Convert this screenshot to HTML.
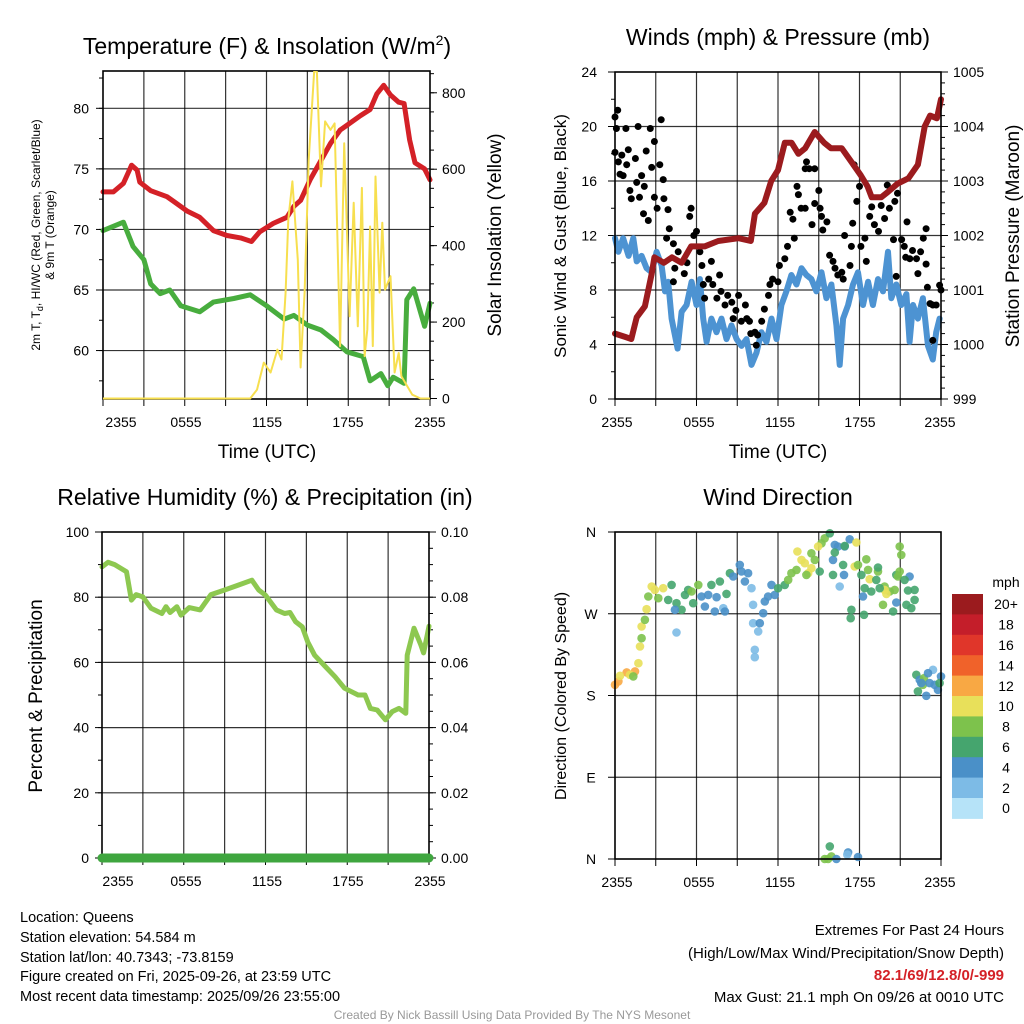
<!DOCTYPE html>
<html><head><meta charset="utf-8"><style>
html,body{margin:0;padding:0;background:#fff}
svg{display:block;font-family:"Liberation Sans",Arial,sans-serif}
</style></head><body>
<svg id="c" width="1024" height="1024" viewBox="0 0 1024 1024" xmlns="http://www.w3.org/2000/svg">
<rect width="1024" height="1024" fill="#fff"/>
<text x="267" y="54" font-size="23" text-anchor="middle">Temperature (F) &amp; Insolation (W/m<tspan font-size="14" dy="-9">2</tspan><tspan dy="9">)</tspan></text>
<text x="778" y="45" font-size="23" text-anchor="middle">Winds (mph) &amp; Pressure (mb)</text>
<text x="265" y="505" font-size="23" text-anchor="middle">Relative Humidity (%) &amp; Precipitation (in)</text>
<text x="778" y="505" font-size="23" text-anchor="middle">Wind Direction</text>
<text x="267" y="458" font-size="19" text-anchor="middle">Time (UTC)</text>
<text x="778" y="458" font-size="19" text-anchor="middle">Time (UTC)</text>
<g font-size="12" text-anchor="middle">
<text transform="translate(40,235) rotate(-90)">2m T, T<tspan font-size="9" dy="3">d</tspan><tspan dy="-3">, HI/WC (Red, Green, Scarlet/Blue)</tspan></text>
<text transform="translate(54,235) rotate(-90)">&amp; 9m T (Orange)</text>
</g>
<text transform="translate(501,235) rotate(-90)" font-size="19" text-anchor="middle">Solar Insolation (Yellow)</text>
<text transform="translate(566,236) rotate(-90)" font-size="17" text-anchor="middle">Sonic Wind &amp; Gust (Blue, Black)</text>
<text transform="translate(1019,236) rotate(-90)" font-size="19" text-anchor="middle">Station Pressure (Maroon)</text>
<text transform="translate(42,696) rotate(-90)" font-size="19" text-anchor="middle">Percent &amp; Precipitation</text>
<text transform="translate(566,696) rotate(-90)" font-size="16" text-anchor="middle">Direction (Colored By Speed)</text>
<g font-size="14.5">
<text x="20" y="922">Location: Queens</text>
<text x="20" y="942">Station elevation: 54.584 m</text>
<text x="20" y="962">Station lat/lon: 40.7343; -73.8159</text>
<text x="20" y="981">Figure created on Fri, 2025-09-26, at 23:59 UTC</text>
<text x="20" y="1001">Most recent data timestamp: 2025/09/26 23:55:00</text>
</g>
<g font-size="15" text-anchor="end">
<text x="1004" y="935">Extremes For Past 24 Hours</text>
<text x="1004" y="958">(High/Low/Max Wind/Precipitation/Snow Depth)</text>
<text x="1004" y="980" fill="#d42127" font-weight="bold">82.1/69/12.8/0/-999</text>
<text x="1004" y="1002">Max Gust: 21.1 mph On 09/26 at 0010 UTC</text>
</g>
<text x="512" y="1019" font-size="12" fill="#999" text-anchor="middle">Created By Nick Bassill Using Data Provided By The NYS Mesonet</text>
</svg>
<script>
// ---- Panel 1 data ----
const tempHours=[0,0.76,1.5,2.1,2.5,2.7,3.5,4.7,5.2,6.2,7.1,8.1,9.1,10.1,10.9,11.5,12.5,13.5,14.0,14.5,15.2,16.0,16.7,17.4,17.9,18.9,19.6,20.1,20.6,21.1,21.7,22.1,22.5,22.9,23.6,24];
const tempValues=[73.1,73.1,73.8,75.3,74.9,73.9,73.2,72.7,72.3,71.5,71.0,69.9,69.5,69.3,69.0,69.8,70.5,71.0,71.9,72.4,74.1,75.7,77.1,78.2,78.6,79.4,79.9,81.2,81.9,81.1,80.5,80.4,77.4,75.5,75.0,74.1];
const dewHours=[0,1.5,2.2,3.0,3.5,4.2,4.9,5.7,7.1,8.1,9.6,10.8,12.0,13.3,14.0,15.0,16.0,16.9,17.9,19.1,19.6,20.4,20.9,21.3,22.1,22.3,22.8,23.6,24];
const dewValues=[69.9,70.6,68.6,67.5,65.5,64.7,65.0,63.7,63.2,64.0,64.3,64.6,63.7,62.6,62.9,62.1,61.7,60.9,59.9,59.5,57.5,58.1,57.1,57.8,57.3,64.2,65.1,62.0,63.9];
const solarHours=[0,10.8,11.3,11.8,12.3,12.8,13.1,13.4,13.6,13.9,14.3,14.5,14.8,15.1,15.5,15.7,16.0,16.3,16.7,17.0,17.4,17.7,18.1,18.4,18.7,19.0,19.2,19.4,19.6,19.8,20.0,20.3,20.5,20.7,21.1,21.4,21.7,21.9,22.7,23.3,24];
const solarValues=[0,0,23,94,68,128,102,277,468,568,363,81,277,625,857,855,555,725,703,720,137,668,215,512,189,551,111,180,450,137,581,277,460,285,320,68,119,58,10,0,0];
// ---- Panel 2 data ----
const windHours=[0,0.25,0.6,1,1.35,1.6,1.96,2.33,2.7,3.06,3.43,3.68,3.92,4.17,4.61,4.9,5.27,5.64,6.0,6.25,6.49,6.74,7.1,7.47,7.84,8.21,8.58,8.95,9.31,9.68,10.05,10.42,10.78,11.15,11.52,11.89,12.25,12.62,12.99,13.36,13.73,14.09,14.46,14.83,15.2,15.56,15.93,16.3,16.54,16.79,17.16,17.52,17.89,18.26,18.63,18.99,19.36,19.73,20.1,20.34,20.71,21.08,21.45,21.69,21.94,22.3,22.67,23.04,23.4,23.65,23.9];
const windValues=[11.8,10.8,11.8,10.5,11.8,10.1,10.5,9.6,9.3,10.8,9.8,7.9,8.6,5.9,3.7,6.4,6.9,8.6,6.9,8.8,5.9,4.2,5.9,4.9,5.9,4.4,5.4,4.4,3.9,4.4,2.5,3.4,4.9,4.2,5.9,4.4,6.9,7.9,9.1,8.4,9.6,9.1,8.8,7.9,9.3,7.4,8.4,5.4,2.5,5.9,6.9,8.4,9.3,6.9,8.6,6.9,8.8,7.9,10.8,7.4,8.4,6.9,7.7,4.2,6.9,5.9,7.4,3.9,2.9,4.9,5.9];
const gustHours=[0,0.2,0.1,0,0.25,0.37,0.6,0.8,0.5,0.86,0.98,1.1,1.2,1.5,1.6,1.7,1.8,1.96,2.16,2.1,2.3,2.45,2.6,2.7,2.9,2.9,3.1,3.3,3.4,3.55,3.6,3.9,3.8,4.0,4.3,4.4,4.3,4.65,5.1,5.3,5.5,5.6,5.8,6.0,6.25,6.4,6.5,6.6,6.9,7.1,7.2,7.5,7.7,7.8,8.1,8.3,8.6,8.7,8.9,9.1,9.3,9.6,9.7,9.9,10.0,10.3,10.4,10.5,10.8,11.0,11.3,11.4,11.6,12.0,12.1,12.5,12.7,12.9,13.1,13.2,13.4,13.5,13.7,14.0,14.1,14.0,14.3,14.5,14.7,14.7,15.0,15.1,15.2,15.3,15.6,15.8,16.05,16.2,16.4,16.7,16.8,16.9,17.3,17.4,17.5,17.6,17.8,18.0,18.1,18.4,18.5,18.75,18.9,19.1,19.4,19.6,19.85,20.05,20.2,20.6,20.5,20.8,20.7,21.1,21.3,21.5,21.4,21.7,21.9,22.2,22.3,22.5,22.7,22.9,22.9,23.0,23.2,23.4,23.65,23.9,24.0,23.4];
const gustValues=[20.7,21.2,19.85,18.1,17.4,16.5,16.4,19.85,17.9,17.2,18.3,15.3,14.7,17.65,15.9,20.0,14.8,16.4,15.6,13.6,18.2,13.1,19.85,17.0,18.9,14.8,14.0,17.2,20.5,16.1,14.7,13.9,11.8,12.5,11.4,9.6,8.6,10.8,9.2,10.0,13.4,14.0,12.0,12.3,10.8,9.8,8.4,7.4,8.8,10.1,8.4,7.4,9.1,7.9,6.9,7.6,7.1,5.9,6.5,7.6,5.7,6.9,5.9,5.7,4.8,4.9,3.95,4.7,5.7,6.6,7.6,8.4,8.8,8.6,9.8,10.3,11.2,13.7,13.2,11.8,15.6,15.0,14.0,14.0,17.4,16.9,16.9,12.8,16.9,14.35,15.3,14.0,13.4,12.4,13.0,10.55,10.1,9.6,9.1,9.3,8.8,12.0,9.8,11.2,12.9,17.2,14.5,15.6,11.2,11.8,10.1,13.4,14.1,12.8,12.3,14.2,13.25,15.7,14.0,14.5,11.7,15.1,9.0,11.7,11.2,13.0,10.4,10.3,10.9,10.3,9.2,10.8,11.8,12.5,9.9,8.2,7.0,6.9,6.9,8.35,8.0,4.3];
const pressHours=[0,0.74,1.2,1.6,2.2,2.7,2.9,3.6,4.2,4.9,5.6,6.6,7.6,9.1,10.0,10.3,11.0,11.5,12.0,12.5,13.0,13.5,14.0,14.7,15.4,15.9,16.7,17.4,18.1,18.6,18.9,19.6,20.1,20.8,21.6,22.3,22.8,23.2,23.7,24];
const pressValues=[1000.2,1000.14,1000.1,1000.5,1000.7,1001.3,1001.6,1001.5,1001.6,1001.5,1001.8,1001.8,1001.9,1001.95,1001.9,1002.4,1002.6,1003.0,1003.2,1003.7,1003.7,1003.5,1003.6,1003.9,1003.7,1003.6,1003.6,1003.35,1003.1,1002.9,1002.7,1002.7,1002.8,1002.95,1003.05,1003.3,1004.0,1004.2,1004.15,1004.5];
// ---- Panel 3 data ----
const rhHours=[0,0.44,0.93,1.4,1.8,2.16,2.5,3.0,3.6,4.4,4.7,5.0,5.5,5.8,6.4,7.2,8.0,9.0,10.0,11.0,11.5,12.0,12.8,13.4,13.8,14.2,14.7,15.1,15.6,16.4,17.1,17.8,18.8,19.3,19.7,20.2,20.8,21.3,21.8,22.3,22.4,22.9,23.4,23.6,23.85,24];
const rhValues=[89.3,90.7,90.0,88.8,87.8,79.1,80.8,80.1,76.6,75.0,77.1,75.3,77.1,74.5,76.8,76.1,80.8,82.2,83.7,85.2,82.2,80.6,76.1,75.0,75.3,72.5,70.9,66.3,62.2,58.7,55.6,52.1,50.0,50.0,45.9,45.4,42.4,44.9,45.9,44.4,62.2,70.5,65.4,62.9,68.0,71.1];
const precipHours=[0,24];
const precipValues=[0,0];
// ---- Panel 4 data ----
const dirHours=[0,0.25,0.86,1.47,0.37,1.1,1.72,1.84,1.96,2.33,2.7,2.94,3.55,1.35,1.96,2.2,2.45,3.19,4.17,3.92,4.53,4.9,5.15,5.39,4.41,4.53,5.64,6.13,5.76,6.37,6.62,6.86,7.35,7.48,7.1,7.72,8.21,8.46,7.97,8.09,8.7,9.19,9.31,9.56,9.8,10.05,10.17,10.17,10.29,10.29,10.54,10.66,10.91,11.03,11.27,11.52,11.76,12.01,12.5,12.75,12.99,13.36,13.43,13.73,13.97,14.22,14.46,14.09,14.46,14.71,15.07,15.2,15.44,15.81,14.95,16.05,16.18,16.42,16.91,17.28,16.18,16.91,16.79,16.05,16.54,16.86,17.65,17.77,18.75,17.89,18.5,18.63,19.36,18.14,18.38,18.87,19.24,19.36,18.26,17.4,17.35,18.33,19.85,19.73,20.22,20.59,19.85,19.98,19.49,20.47,20.71,21.45,21.57,22.06,21.81,22.06,20.71,21.69,20.96,21.08,20.83,20.96,21.32,22.18,22.43,22.75,22.92,23.41,23.04,23.53,23.77,24.0,22.3,22.67,23.9,23.16,22.55,15.44,15.69,15.81,15.93,16.3,17.16,17.1,17.89];
const dirDegrees=[191.8,195.5,205.4,206.5,201.7,202.8,215.6,234,256,275,300,296.3,298.1,201,243.1,263.3,289,287.1,301.8,285.3,281.6,274.3,290.8,296.3,274.3,249.4,294.5,301.8,281.6,289,278,290.8,272.5,288.2,301.8,305.5,291.9,314.6,276.1,272.5,311,323.8,316.5,305.5,314.6,298.1,279.8,259.6,230.3,222.2,250.5,259.6,270.6,283.5,289,301.8,290.8,298.1,301.8,307.3,314.6,318.3,338.5,329.3,325.6,314.6,320.1,312.8,336.6,329.3,316.5,347.6,353.1,358.6,344,329.3,345.8,344,344,352,337.4,344.7,323.8,312.8,300,312.8,322,348.4,308,323.8,330,318.3,316.5,312.8,298.1,294.5,307.3,320.9,289,274.3,265.1,268.8,300,279.8,294.5,296.3,296.3,291.9,298.1,272.5,312.8,279.8,295.6,296.3,276.1,285.3,282.4,311,344,334.8,311,316.5,307.3,202.8,197.3,199.1,179.7,208.3,204.6,191.8,186.3,201,184.5,191.8,193.6,193.6,193.6,0,0,13.9,2.9,0,7.3,4.8,2.2];
const dirSpeeds=[13,13,13,13,11,11,11,11,11,11,11,11,11,9,9,9,9,9,7,7,7,7,7,7,5,3,9,9,7,5,5,5,5,5,7,7,7,7,3,5,5,5,5,5,5,3,3,3,3,3,3,5,5,5,5,5,5,7,7,9,9,9,11,11,11,11,11,9,9,9,7,9,9,7,11,5,5,5,5,5,7,7,7,7,3,5,11,11,11,9,9,9,9,7,7,7,7,7,5,7,7,7,9,9,9,9,11,11,7,7,7,7,7,7,7,7,5,5,9,9,9,9,7,7,5,9,5,3,5,5,5,5,7,9,7,5,5,9,9,7,9,5,5,3,5];
const speedLabels=["0","2","4","6","8","10","12","14","16","18","20+"];
const speedColors=["#b6e3f8","#7dbbe6","#4a90c8","#45a56e","#7dc24c","#e8e05a","#f8a844","#f0622a","#e0362a","#c41e2a","#9b1b1e"];
const timeTickLabels=["2355","0555","1155","1755","2355"];

const NS="http://www.w3.org/2000/svg";
const svg=document.getElementById('c');
function mk(tag,attrs,parent){const e=document.createElementNS(NS,tag);for(const k in attrs)e.setAttribute(k,attrs[k]);(parent||svg).appendChild(e);return e;}
function scale(d0,d1,r0,r1){return v=>r0+(v-d0)/(d1-d0)*(r1-r0);}

function panel(P){
  const g=mk('g',{});
  
  
  for(let h=3;h<24;h+=3){const x=P.xs(h);const l=mk('line',{x1:x,x2:x,y1:P.y0,y2:P.y1,stroke:'#000','stroke-width':1.2,'stroke-opacity':0.8},g);
    
    }
  P.hgrid.forEach(v=>{const y=P.ys(v);const l=mk('line',{x1:P.x0,x2:P.x1,y1:y,y2:y,stroke:'#000','stroke-width':1.2,'stroke-opacity':0.8},g);
    
    });
  for(let h=0;h<=24;h+=3){const x=P.xs(h);mk('line',{x1:x,x2:x,y1:P.y1,y2:P.y1+7,stroke:'#000','stroke-width':1},g);}
  P.xlabX.forEach((x,i)=>{const t=mk('text',{x:x,y:P.y1+28,'font-size':14,'text-anchor':'middle'},g);t.textContent=timeTickLabels[i];
    
    });
  P.lMinor.forEach(v=>{const y=P.ys(v);mk('line',{x1:P.x0-4,x2:P.x0,y1:y,y2:y,stroke:'#000'},g);});
  P.lTicks.forEach((v,i)=>{const y=P.ys(v);mk('line',{x1:P.x0-7,x2:P.x0,y1:y,y2:y,stroke:'#000'},g);
    const t=mk('text',{x:P.lLabX,y:y+5,'font-size':14,'text-anchor':P.lAnchor},g);t.textContent=P.lLabels[i];
    
    });
  if(P.rs){
    P.rMinor.forEach(v=>{const y=P.rs(v);mk('line',{x1:P.x1,x2:P.x1+4,y1:y,y2:y,stroke:'#000'},g);});
    P.rTicks.forEach((v,i)=>{const y=P.rs(v);mk('line',{x1:P.x1,x2:P.x1+7,y1:y,y2:y,stroke:'#000'},g);
      const t=mk('text',{x:P.x1+12,y:y+5,'font-size':14},g);t.textContent=P.rLabels[i];
      
      });
  }
  return g;
}
function border(P){const r=mk('rect',{x:P.x0,y:P.y0,width:P.x1-P.x0,height:P.y1-P.y0,fill:'none',stroke:'#000','stroke-width':1.6});
  
  }
function line(xs,ys,hs,vs,color,w,name,clip){const p=mk('path',{d:hs.map((h,i)=>(i?'L':'M')+xs(h).toFixed(1)+','+ys(vs[i]).toFixed(1)).join(''),fill:'none',stroke:color,'stroke-width':w,'stroke-linejoin':'round','stroke-linecap':'round'});
  if(clip)p.setAttribute('clip-path',clip);
  
  return p;}
function range(a,b,s){const r=[];for(let v=a;v<=b+1e-9;v+=s)r.push(+v.toFixed(4));return r;}

const defs=mk('defs',{});
function addClip(id,P){const c=mk('clipPath',{id:id},defs);mk('rect',{x:P.x0,y:P.y0,width:P.x1-P.x0,height:P.y1-P.y0+2},c);}

// Panel 1
const P1={name:'temperature-panel',x0:103,x1:430,y0:71,y1:399};
P1.xs=scale(0,24,P1.x0,P1.x1);P1.ys=scale(56,83.08,P1.y1,P1.y0);P1.rs=scale(0,857,P1.y1-0.5,P1.y0);
Object.assign(P1,{hgrid:[60,65,70,75,80],lTicks:[60,65,70,75,80],lLabels:["60","65","70","75","80"],lMinor:range(57.5,82.5,2.5),lLabX:89,lAnchor:'end',
rTicks:[0,200,400,600,800],rLabels:["0","200","400","600","800"],rMinor:range(0,850,50),xlabX:[121,186,267,348,430]});
panel(P1);addClip('cp1',P1);
line(P1.xs,P1.ys,dewHours,dewValues,'#48ad3e',5,'dewpoint-line');
line(P1.xs,P1.ys,tempHours,tempValues,'#d42127',5,'temperature-line');
border(P1);
line(P1.xs,P1.rs,solarHours,solarValues,'#f7df4f',2,'solar-insolation-line','url(#cp1)');

// Panel 2
const P2={name:'winds-panel',x0:615,x1:941,y0:72,y1:399};
P2.xs=scale(0,24,P2.x0,P2.x1);P2.ys=scale(0,24,P2.y1,P2.y0);P2.rs=scale(999,1005,P2.y1,P2.y0);
Object.assign(P2,{hgrid:[4,8,12,16,20],lTicks:[0,4,8,12,16,20,24],lLabels:["0","4","8","12","16","20","24"],lMinor:range(0,24,2),lLabX:597,lAnchor:'end',
rTicks:[999,1000,1001,1002,1003,1004,1005],rLabels:["999","1000","1001","1002","1003","1004","1005"],rMinor:range(999,1005,0.2),xlabX:[617,699,780,860,940]});
panel(P2);
line(P2.xs,P2.ys,windHours,windValues,'#4d93d2',6,'sustained-wind-line');
gustHours.forEach((h,i)=>{const c=mk('circle',{cx:P2.xs(h).toFixed(1),cy:P2.ys(gustValues[i]).toFixed(1),r:3.5,fill:'#000'});
  
  });
line(P2.xs,P2.rs,pressHours,pressValues,'#9b1b1e',6,'pressure-line');
border(P2);

// Panel 3
const P3={name:'humidity-panel',x0:102,x1:429,y0:532,y1:858};
P3.xs=scale(0,24,P3.x0,P3.x1);P3.ys=scale(0,100,P3.y1,P3.y0);P3.rs=scale(0,0.1,P3.y1,P3.y0);
Object.assign(P3,{hgrid:[20,40,60,80],lTicks:[0,20,40,60,80,100],lLabels:["0","20","40","60","80","100"],lMinor:range(0,100,10),lLabX:89,lAnchor:'end',
rTicks:[0,0.02,0.04,0.06,0.08,0.1],rLabels:["0.00","0.02","0.04","0.06","0.08","0.10"],rMinor:range(0,0.1,0.005),xlabX:[118,186,267,348,430]});
panel(P3);
line(P3.xs,P3.ys,rhHours,rhValues,'#8dc850',5,'relative-humidity-line');
border(P3);
line(P3.xs,P3.rs,precipHours,precipValues,'#3fa63f',9,'precipitation-line');

// Panel 4
const P4={name:'wind-direction-panel',x0:615,x1:941,y0:532,y1:859};
P4.xs=scale(0,24,P4.x0,P4.x1);P4.ys=scale(0,360,P4.y1,P4.y0);
Object.assign(P4,{hgrid:[90,180,270],lTicks:[0,90,180,270,360],lLabels:["N","E","S","W","N"],lMinor:[],lLabX:591,lAnchor:'middle',xlabX:[617,699,780,860,940]});
panel(P4);
dirHours.forEach((h,i)=>{const idx=Math.min(10,Math.floor(dirSpeeds[i]/2));
  const c=mk('circle',{cx:P4.xs(h).toFixed(1),cy:P4.ys(dirDegrees[i]).toFixed(1),r:4.3,fill:speedColors[idx],'fill-opacity':0.9});
  
  });
border(P4);

// Colorbar
const cb=mk('g',{});


const cbTop=594,cbH=20.4;
const mt=mk('text',{x:1006,y:587,'font-size':14,'text-anchor':'middle'},cb);mt.textContent='mph';
speedColors.forEach((col,i)=>{const k=10-i;const y=cbTop+i*cbH;
  const r=mk('rect',{x:952,y:y,width:31,height:cbH+0.5,fill:speedColors[k]},cb);
  
  
  const t=mk('text',{x:1006,y:y+cbH/2+5,'font-size':14,'text-anchor':'middle'},cb);t.textContent=speedLabels[k];
  
  });
</script>
</body></html>
